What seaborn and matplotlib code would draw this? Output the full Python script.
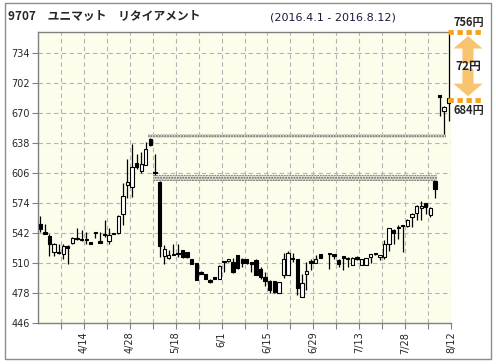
import numpy as np
import pandas as pd
import matplotlib
matplotlib.use("Agg")
import matplotlib.pyplot as plt
import seaborn as sns
from matplotlib.patches import Rectangle, FancyArrowPatch

# daily candles 2016/4/1 - 2016/8/12
opens = [552, 543, 539, 522, 522, 520, 528, 532, 537, 536,
         536, 532, 542, 534, 541, 534, 542, 542, 562, 593,
         591, 617, 608, 615, 642, 606, 596, 518, 516, 520,
         520, 524, 522, 515, 510, 501, 499, 492.5, 495, 493,
         511, 512, 511, 519, 515, 515, 511, 513, 504, 495,
         491.5, 491, 478, 497, 497.5, 515, 515, 474.5, 498.6, 512,
         510.5, 519.4, np.nan, 520, 520, 513, 518, 515, 508, 515.4,
         508, 508, 516.5, 520, 517, 516.5, 531, 545, 549, 550.6,
         549.5, 559.6, 563, 568.6, 574, 561.4, 598, 689, 672, 681]
highs = [560, 552, 541, 532, 530, 530, 529, 538, 548, 545,
         543, 532, 542, 543, 556, 547, 542, 561, 595, 621,
         637, 626, 628, 639, 643, 626, 598, 529, 524, 530,
         530, 524, 522, 515, 510, 502, 499, 493, 495, 508,
         512, 515, 516, 519, 516, 515, 511, 514, 506, 501,
         492, 491, 490, 521, 523, 521, 515, 498.6, 511, 514,
         519, 519.4, np.nan, 520, 520, 514, 518, 517, 517, 518,
         514, 516, 520, 520, 517, 534.5, 548, 546, 551, 551,
         557, 563, 572, 576, 574, 570, 598, 689, 678, 756]
lows = [543, 541, 518, 518, 520, 515, 509, 531, 535, 534,
        531, 531, 537, 532, 538, 531, 541, 541, 551, 579,
        581, 610, 606, 615, 635, 604.5, 517, 509, 514, 519,
        517, 516, 516, 509, 492, 499, 493, 489, 493, 493,
        501, 511, 500, 504, 506, 509, 501, 497, 493.5, 486,
        478, 478, 478, 494, 497, 511, 476, 474, 481, 503,
        510, 516, np.nan, 504, 515, 506, 503, 506, 508, 513,
        508, 508, 510, 519, 513, 514, 523, 531, 536, 522,
        549, 549, 556, 556, 562, 559, 579, 667, 648, 662]
closes = [546, 541, 531, 530, 521, 528, 526, 537, 536, 535,
          535, 531, 542, 532, 540, 540, 541, 560, 582, 597,
          613, 613, 616, 632, 636, 607, 528, 525, 519, 519,
          519.5, 516.5, 516.5, 509.5, 492.5, 499, 493, 490.5, 493, 507.5,
          512, 515, 501, 505, 510.5, 510, 509.5, 497, 495, 491.5,
          481, 479, 490, 515, 521, 514, 483.5, 489, 501.4, 510.5,
          515, 516, np.nan, 520, 518, 509.5, 515.4, 514, 516, 515,
          514, 516, 519.4, 519.4, 517, 530, 547, 542, 547, 549.5,
          556, 562.5, 571, 571, 570.4, 568.6, 589, 687, 676, 686]

tick_labels = ["4/14", "4/28", "5/18", "6/1", "6/15", "6/29", "7/13", "7/28", "8/12"]
y_ticks = [446, 478, 510, 542, 574, 606, 638, 670, 702, 734]

# unfilled gaps (windows): start day, end day, low, high
gap_start = [24, 25]
gap_end = [88, 86]
gap_low = [643, 598]
gap_high = [648, 604.5]

range_top = 756
range_bottom = 684

df = pd.DataFrame({"open": opens, "high": highs, "low": lows, "close": closes})
df["day"] = np.arange(len(df))
df = df.dropna()

sns.set_style("white")
plt.rcParams["font.family"] = ["DejaVu Sans"]
jp = ["Noto Sans CJK JP", "DejaVu Sans"]

fig = plt.figure(figsize=(4.96, 3.64), dpi=100)
ax = fig.add_axes([38 / 496, 1 - 323.3 / 364, 413 / 496, 291 / 364])
ax.set_facecolor("#fdfdec")

# gap bands
for s, e, lo, hi in zip(gap_start, gap_end, gap_low, gap_high):
    ax.add_patch(Rectangle((s - 0.5, lo), e - s + 1, hi - lo, facecolor="#e4e4d4",
                           edgecolor="#666666", hatch="......", lw=0, zorder=2))

# wicks
ax.vlines(df["day"], df["low"], df["high"], color="black", lw=0.9, zorder=3)
# bodies
up = df["close"] >= df["open"]
body_bottom = np.minimum(df["open"], df["close"])
body_h = np.maximum((df["close"] - df["open"]).abs(), 1.3)
ax.bar(df["day"][up], body_h[up], bottom=body_bottom[up], width=0.72,
       color="white", edgecolor="black", lw=0.8, zorder=4)
ax.bar(df["day"][~up], body_h[~up], bottom=body_bottom[~up], width=0.72,
       color="black", edgecolor="black", lw=0.8, zorder=4)

ax.set_xlim(-0.5, 89.5)
ax.set_ylim(446, 756)
ax.set_yticks(y_ticks)
ax.set_yticklabels([str(v) for v in y_ticks], fontsize=7)
major = [9.5 + 10 * k for k in range(len(tick_labels))]
minor = [4.5 + 10 * k for k in range(len(tick_labels))]
ax.set_xticks(major)
ax.set_xticklabels(tick_labels, rotation=90, fontsize=7)
ax.set_xticks(minor, minor=True)
ax.tick_params(axis="both", which="both", direction="out", length=4, width=0.8,
               color="#808080", pad=2, bottom=True, left=True)

for v in major + minor:
    ax.axvline(v, color="#b4b4b4", lw=0.8, ls=(0, (4, 3)), zorder=1)
for v in y_ticks[1:]:
    ax.axhline(v, color="#b4b4b4", lw=0.8, ls=(0, (4, 3)), zorder=1)

for side in ["left", "bottom", "top"]:
    ax.spines[side].set_color("#808080")
    ax.spines[side].set_linewidth(1)
ax.spines["right"].set_visible(False)

# range marker at the right
orange = "#f5a21e"
for v in [range_top, range_bottom]:
    ax.plot([88.9, 96.6], [v, v], color=orange, lw=3.5, ls=(0, (1.1, 0.75)),
            solid_capstyle="butt", clip_on=False, zorder=6)
mid = (range_top + range_bottom) / 2
for end in [range_top - 1, range_bottom + 1]:
    ax.add_patch(FancyArrowPatch((93.2, mid), (93.2, end),
                                 arrowstyle="Simple,tail_width=8,head_width=21,head_length=9",
                                 color="#f8c470", lw=0, clip_on=False, zorder=5))
ax.text(93.2, mid, f"{range_top - range_bottom}円", ha="center", va="center",
        fontsize=8.5, fontweight="bold", family=jp, color="#222222",
        clip_on=False, zorder=7)
ax.text(93.3, range_top + 4, f"{range_top}円", ha="center", va="bottom",
        fontsize=8, fontweight="bold", family=jp, clip_on=False)
ax.text(93.3, range_bottom - 4, f"{range_bottom}円", ha="center", va="top",
        fontsize=8, fontweight="bold", family=jp, clip_on=False)

fig.text(8 / 496, 1 - 16 / 364, "9707　ユニマット　リタイアメント", ha="left", va="center",
         fontsize=8.5, fontweight="bold", family=jp)
fig.text(270 / 496, 1 - 17 / 364, "(2016.4.1 - 2016.8.12)", ha="left", va="center",
         fontsize=8, color="#1a1a40")

fig.patches.append(Rectangle((5 / 496, 1 - 359 / 364), 486 / 496, 356 / 364,
                             transform=fig.transFigure, fill=False,
                             edgecolor="#8c8c8c", lw=1))

fig.savefig("out.png", dpi=100)
